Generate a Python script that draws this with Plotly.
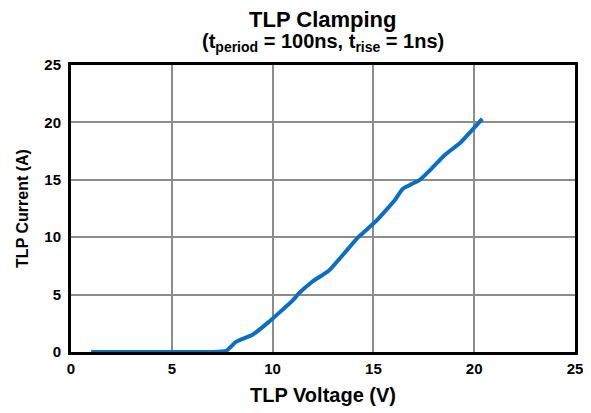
import plotly.graph_objects as go

voltage = [1.0, 3.0, 5.0, 7.0, 7.7, 8.2, 9.0, 9.8, 11.0, 11.3, 11.95, 12.8, 14.25, 15.1, 16.05, 16.45, 17.3, 17.9, 18.5, 19.35, 20.4]
current = [0.0, 0.0, 0.0, 0.0, 0.1, 0.9, 1.5, 2.6, 4.5, 5.1, 6.1, 7.1, 10.0, 11.35, 13.2, 14.2, 15.0, 16.0, 17.1, 18.3, 20.3]
x_ticks = [0, 5, 10, 15, 20, 25]
y_ticks = [0, 5, 10, 15, 20, 25]

font = "Liberation Sans, Arial, sans-serif"

fig = go.Figure()
fig.add_trace(go.Scatter(x=voltage, y=current, mode="lines",
                         line=dict(color="#0a6fc2", width=4, shape="spline", smoothing=0.4),
                         showlegend=False))

# page body has an 8px margin, so the figure is shifted by 8px right/down
fig.update_layout(
    width=583, height=405,
    margin=dict(l=63, r=8, t=57, b=61),
    paper_bgcolor="white", plot_bgcolor="white",
    font=dict(family=font, color="black"),
    annotations=[
        dict(text="<b>TLP Clamping</b>", xref="paper", yref="paper", x=0.5, y=1,
             yshift=46, xanchor="center", yanchor="middle", showarrow=False,
             font=dict(size=22, family=font, color="black")),
        dict(text="<b>(t<sub>period</sub> = 100ns, t<sub>rise</sub> = 1ns)</b>", xref="paper", yref="paper",
             x=0.5, y=1, yshift=23, xanchor="center", yanchor="middle", showarrow=False,
             font=dict(size=20, family=font, color="black")),
    ],
)
fig.update_xaxes(range=[0, 25], tickvals=x_ticks, ticktext=[str(v) for v in x_ticks],
                 showgrid=True, gridcolor="#8c8c8c", gridwidth=2,
                 showline=True, linecolor="black", linewidth=3, mirror=True,
                 ticks="", zeroline=False, ticklabelstandoff=1, ticklabeloverflow="allow",
                 tickfont=dict(size=15, family=font, color="black", weight="bold"),
                 title=dict(text="<b>TLP Voltage (V)</b>", font=dict(size=20, family=font, color="black"), standoff=12))
fig.update_yaxes(range=[0, 25], tickvals=y_ticks, ticktext=[str(v) for v in y_ticks],
                 showgrid=True, gridcolor="#8c8c8c", gridwidth=2,
                 showline=True, linecolor="black", linewidth=3, mirror=True,
                 ticks="", zeroline=False, ticklabelstandoff=4,
                 tickfont=dict(size=15, family=font, color="black", weight="bold"),
                 title=dict(text="<b>TLP Current (A)</b>", font=dict(size=16, family=font, color="black"), standoff=12))

fig.write_html("out.html")
